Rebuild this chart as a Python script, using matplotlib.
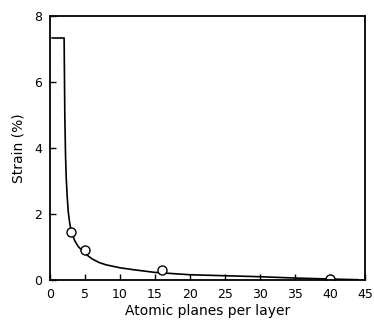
import matplotlib
matplotlib.use('Agg')
import matplotlib.pyplot as plt

# fitted curve
curve_x = [0.3, 2.0, 2.1, 2.2, 2.3, 2.45, 2.6, 2.8, 3.0, 3.5, 4.0, 5.0, 6.0, 7.0, 8.0, 10.0, 12.0, 15.0, 20.0, 25.0, 30.0, 35.0, 40.0, 44.0]
curve_y = [7.33, 7.33, 5.0, 3.8, 3.1, 2.5, 2.05, 1.72, 1.5, 1.2, 1.02, 0.8, 0.64, 0.53, 0.46, 0.37, 0.31, 0.23, 0.16, 0.13, 0.1, 0.06, 0.03, 0.01]

# measured points (open circles)
pts_x = [3, 5, 16, 40]
pts_y = [1.45, 0.9, 0.3, 0.03]

xticks = [0, 5, 10, 15, 20, 25, 30, 35, 40, 45]
yticks = [0, 2, 4, 6, 8]

fig = plt.figure(figsize=(3.74, 3.31), dpi=100)
ax = fig.add_axes([0.134, 0.154, 0.842, 0.798])

ax.plot(curve_x, curve_y, color='black', lw=1.2)
ax.plot(pts_x, pts_y, 'o', mfc='white', mec='black', ms=6.5, mew=1.0)

ax.set_xlim(0, 45)
ax.set_ylim(0, 8)
ax.set_xticks(xticks)
ax.set_yticks(yticks)
ax.tick_params(direction='in', length=4, width=1, labelsize=9, pad=6)
for s in ax.spines.values():
    s.set_linewidth(1.3)

ax.set_xlabel('Atomic planes per layer', fontsize=10, labelpad=2)
ax.set_ylabel('Strain (%)', fontsize=10, labelpad=6)

fig.savefig('out.png', dpi=100)
